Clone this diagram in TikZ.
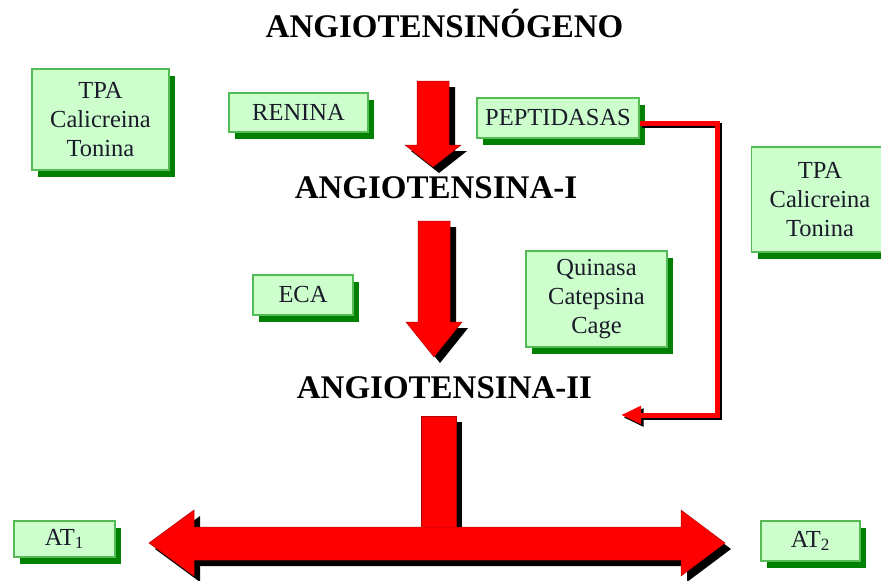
\documentclass[tikz,border=0pt]{standalone}
\usepackage{fontspec}
\setmainfont{Liberation Serif}
\usetikzlibrary{shadows,arrows.meta}
\definecolor{boxfill}{HTML}{CCFFCC}
\definecolor{boxline}{HTML}{55BB55}
\definecolor{boxshadow}{HTML}{008000}
\definecolor{txt}{HTML}{1A1A2A}
\begin{document}
\begin{tikzpicture}[x=1pt,y=-1pt,
  enz/.style={draw=boxline,line width=1.2pt,fill=boxfill,inner sep=0pt,align=center,
    text=txt,font=\rmfamily\fontsize{24.5}{29}\selectfont,
    drop shadow={shadow xshift=6pt,shadow yshift=-7pt,fill=boxshadow,opacity=1}},
  title/.style={font=\rmfamily\fontsize{33}{38}\selectfont\bfseries,inner sep=0pt,anchor=base},
  blockarrow/.style={fill=red,draw=red!70!black,line width=0.5pt,
    drop shadow={shadow xshift=6pt,shadow yshift=-6pt,fill=black,opacity=1}},
  conn/.style={line width=5pt,-{Triangle[length=20pt,width=17pt]}}]
\useasboundingbox (0,0) rectangle (881,581);

% titles
\node[title] (t0) at (444.5,37) {ANGIOTENSINÓGENO};
\node[title] (t1) at (436,198) {ANGIOTENSINA-I};
\node[title] (t2) at (444.5,398) {ANGIOTENSINA-II};

% enzyme boxes
\node[enz,minimum width=137pt,minimum height=101pt] (tpaL) at (100.5,119.5) {TPA\\Calicreina\\Tonina};
\node[enz,minimum width=139pt,minimum height=39pt] (ren) at (298.5,112.5) {RENINA};
\node[enz,minimum width=162pt,minimum height=40pt] (pep) at (558,118) {PEPTIDASAS};
\node[enz,minimum width=137pt,minimum height=105pt] (tpaR) at (820,199.5) {TPA\\Calicreina\\Tonina};
\node[enz,minimum width=100pt,minimum height=40pt] (eca) at (303,295) {ECA};
\node[enz,minimum width=141pt,minimum height=96pt] (quin) at (596.5,299) {Quinasa\\Catepsina\\Cage};
\node[enz,minimum width=101pt,minimum height=36pt] (at1) at (64.5,539) {AT\textsubscript{1}};
\node[enz,minimum width=99pt,minimum height=40pt] (at2) at (810.5,541) {AT\textsubscript{2}};

% block arrows
\fill[blockarrow] (417,81) -- (449,81) -- (449,145) -- (461,145) -- (433,167)
  -- (405,145) -- (417,145) -- cycle;
\fill[blockarrow] (418,221) -- (450,221) -- (450,322) -- (462,322) -- (434,357)
  -- (406,322) -- (418,322) -- cycle;
\fill[blockarrow] (421,416) rectangle (456,527);
\fill[blockarrow] (149,543) -- (194,510) -- (194,527) -- (681,527) -- (681,510)
  -- (725,543) -- (681,576) -- (681,560) -- (194,560) -- (194,576) -- cycle;

% peptidasas connector
\coordinate (c1) at (717,123);
\coordinate (c2) at (717,415);
\coordinate (cend) at (621,415);
\coordinate (cstart) at (pep.east |- c1);
\draw[conn,black] ([xshift=2.5pt,yshift=-2.5pt]cstart) -- ([xshift=2.5pt,yshift=-2.5pt]c1)
  -- ([xshift=2.5pt,yshift=-2.5pt]c2) -- ([xshift=2.5pt,yshift=-2.5pt]cend);
\draw[conn,red] (cstart) -- (c1) -- (c2) -- (cend);
\end{tikzpicture}
\end{document}
